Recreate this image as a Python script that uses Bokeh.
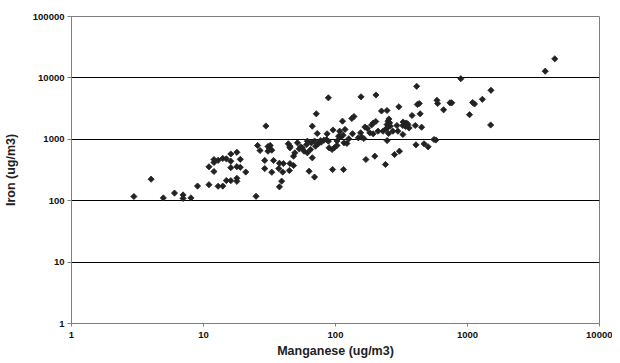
from bokeh.plotting import figure
from bokeh.models import ColumnDataSource, FixedTicker, CustomJSTickFormatter, Range1d
from bokeh.embed import file_html
from bokeh.resources import INLINE

# Manganese (ug/m3) and Iron (ug/m3)
manganese = [2.97, 4.01, 4.96, 6.03, 7.0, 7.0, 8.03, 9.01, 11.0, 11.0,
             12.0, 12.0, 12.0, 12.9, 14.0, 14.9, 12.9, 14.0, 14.9, 16.1,
             16.1, 16.1, 16.1, 17.9, 17.9, 19.0, 17.9, 17.9, 19.0, 20.9,
             25.0, 25.7, 26.8, 29.1, 29.1, 29.7, 30.8, 32.0, 30.8, 32.9,
             31.7, 32.9, 33.9, 37.6, 40.3, 37.2, 39.8, 44.7, 45.2, 48.1,
             48.1, 37.6, 39.1, 43.9, 45.2, 45.2, 51.5, 53.1, 49.2, 54.6,
             57.8, 60.5, 61.2, 63.1, 66.7, 69.4, 66.7, 64.8, 70.6, 74.0,
             77.9, 81.6, 85.3, 88.3, 72.7, 71.5, 88.3, 86.4, 89.4, 94.1,
             97.9, 95.8, 102.6, 105.6, 110, 114, 107.5, 113, 118, 116,
             122, 95, 115, 126, 133, 138, 134.5, 149, 158, 164,
             155, 156, 167, 174, 187.5, 193, 202, 182, 193, 170,
             198.5, 202.5, 56.2, 61.2, 65.6, 69.4, 77, 102.6,
             890, 412, 302, 223, 245.6, 431, 417, 587, 594, 659,
             737, 760, 1094, 1130, 1296, 1506, 1036, 1497, 380, 438,
             402, 449, 325, 337, 345, 354, 340, 361, 323.6, 292,
             254, 250, 257, 246, 260, 240, 246, 252.6, 272, 297,
             324, 229, 210, 246, 407, 469, 503, 557, 577, 305,
             280, 239, 3880, 4585]

iron = [117, 224, 111, 133, 124, 109, 111, 173, 182, 357,
        469, 419, 299, 455, 487, 481, 172, 173, 213, 212,
        576, 440, 345, 614, 358, 350, 232, 207, 472, 293,
        118, 793, 657, 452, 334, 1647, 763, 793, 640, 664,
        708, 291, 452, 408, 403, 334, 293, 310, 403, 374,
        531, 168, 208, 845, 772, 727, 877, 700, 603, 755,
        640, 823, 931, 302, 1635, 243, 500, 682, 772, 845,
        897, 967, 993, 931, 1243, 2602, 4743, 1230, 727, 682,
        727, 1417, 793, 1123, 1098, 1166, 1355, 1972, 1445, 877,
        855, 322, 322, 1019, 2182, 2351, 1230, 1058, 1082, 1030,
        1276, 4923, 1585, 1500, 1710, 1842, 1950, 1276, 1230, 469,
        531, 5267, 722, 603, 877, 938, 955, 938,
        9705, 7300, 3384, 2890, 2944, 3829, 3690, 4316, 3829, 3024,
        3930, 3930, 3975, 3758, 4480, 6281, 2516, 1710, 2442, 2602,
        1678, 1574, 1913, 1808, 1843, 1741, 1616, 1528, 1678, 1678,
        2142, 1972, 1857, 1741, 1635, 1445, 1540, 1243, 1355, 1355,
        1197, 1355, 1355, 955, 813, 845, 755, 993, 974, 640,
        565, 389, 12850, 20470]

x_ticks = [1, 10, 100, 1000, 10000]
y_ticks = [1, 10, 100, 1000, 10000, 100000]
grid_ticks = [10, 100, 1000, 10000]

source = ColumnDataSource(data=dict(mn=manganese, fe=iron))

p = figure(width=612, height=360, x_axis_type="log", y_axis_type="log",
           x_range=Range1d(1, 10000), y_range=Range1d(1, 100000),
           output_backend="svg", toolbar_location=None,
           min_border_left=66, min_border_right=13,
           min_border_top=16, min_border_bottom=37)

p.background_fill_color = "white"
p.border_fill_color = "white"
p.outline_line_color = "#7f7f7f"
p.outline_line_width = 1

fmt = CustomJSTickFormatter(code="return Math.round(tick).toString();")

for ax, ticks in ((p.xaxis[0], x_ticks), (p.yaxis[0], y_ticks)):
    ax.ticker = FixedTicker(ticks=ticks, minor_ticks=[])
    ax.formatter = fmt
    ax.axis_line_color = "#7f7f7f"
    ax.major_tick_line_color = "#7f7f7f"
    ax.major_tick_out = 4
    ax.major_tick_in = 0
    ax.minor_tick_line_color = None
    ax.major_label_text_font = "Liberation Sans"
    ax.major_label_text_font_style = "bold"
    ax.major_label_text_font_size = "9.5px"
    ax.major_label_text_color = "#111111"
    ax.axis_label_text_font = "Liberation Sans"
    ax.axis_label_text_font_style = "bold"
    ax.axis_label_text_font_size = "12.5px"
    ax.axis_label_text_color = "#222222"

p.xaxis.axis_label = "Manganese (ug/m3)"
p.yaxis.axis_label = "Iron (ug/m3)"
p.xaxis.major_tick_out = 3
p.xaxis.major_label_standoff = 5
p.xaxis.axis_label_standoff = 3
p.yaxis.major_label_standoff = 3
p.yaxis.axis_label_standoff = 12

p.xgrid.grid_line_color = None
p.ygrid.ticker = FixedTicker(ticks=grid_ticks, minor_ticks=[])
p.ygrid.grid_line_color = "#000000"
p.ygrid.grid_line_width = 1

p.scatter(x="mn", y="fe", source=source, marker="square", angle=0.785398,
          size=4.4, fill_color="#222222", line_color="#222222", line_width=0.8)

open("out.html", "w").write(file_html(p, INLINE))
